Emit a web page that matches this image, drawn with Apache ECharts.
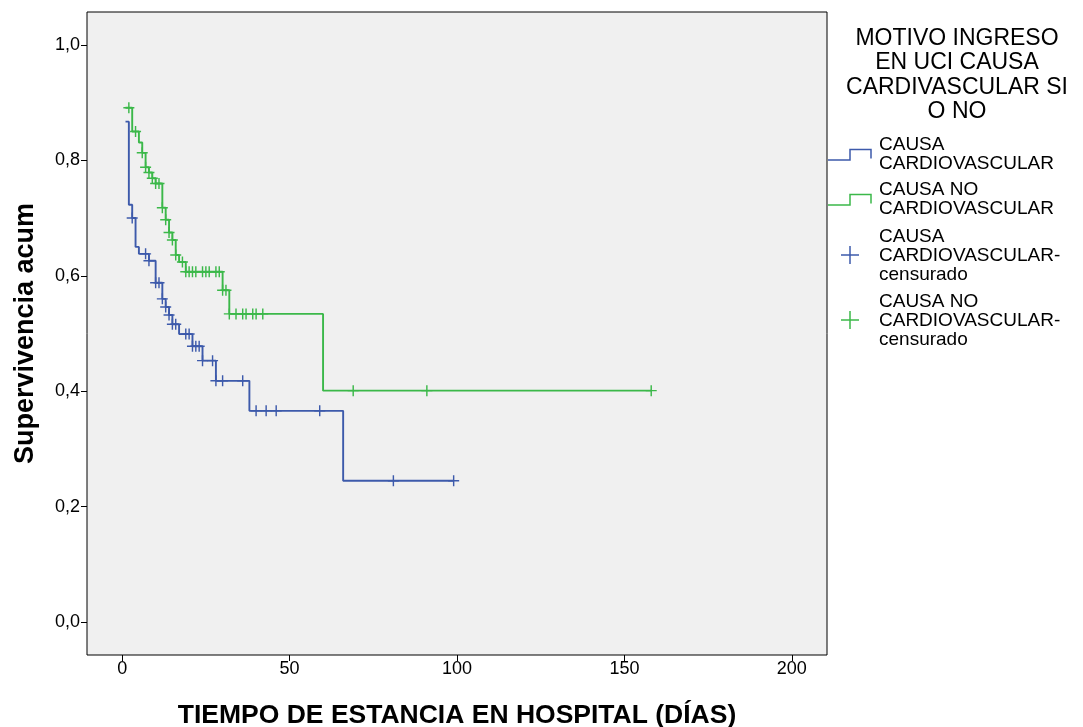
<!DOCTYPE html>
<html>
<head>
<meta charset="utf-8">
<script src="https://cdn.jsdelivr.net/npm/echarts@6/dist/echarts.min.js"></script>
<style>
  html, body { margin: 0; padding: 0; background: #ffffff; }
  #chart { width: 1083px; height: 727px; }
</style>
</head>
<body>
<div id="chart"></div>
<script>
// Kaplan-Meier estimates: day of each step and survival after it
const cardioDays = [1, 2, 3, 4, 5, 8, 10, 12, 13, 14, 15, 17, 21, 24, 28, 38, 66, 99];
const cardioSurv = [0.867, 0.723, 0.700, 0.650, 0.638, 0.626, 0.588, 0.560, 0.546, 0.532, 0.516, 0.499, 0.478, 0.453, 0.418, 0.366, 0.245, 0.245];
const cardioCensored = [3, 7, 8, 10, 11, 12, 13, 14, 15, 16, 19, 20, 21, 22, 23, 24, 27, 28, 30, 36, 40, 43, 46, 59, 81, 99];

const noCardioDays = [1, 3, 5, 6, 7, 8, 9, 10, 12, 13, 14, 15, 16, 17, 19, 30, 32, 60, 158];
const noCardioSurv = [0.891, 0.850, 0.831, 0.813, 0.788, 0.779, 0.769, 0.760, 0.718, 0.697, 0.675, 0.662, 0.636, 0.624, 0.607, 0.575, 0.534, 0.401, 0.401];
const noCardioCensored = [2, 4, 6, 7, 8, 9, 10, 11, 12, 13, 14, 15, 16, 18, 19, 20, 21, 22, 24, 25, 26, 28, 29, 30, 31, 32, 34, 36, 37, 39, 40, 42, 69, 91, 158];

const xTicks = [0, 50, 100, 150, 200];
const yTicks = [0, 0.2, 0.4, 0.6, 0.8, 1.0];

const legendTitle = 'MOTIVO INGRESO\nEN UCI CAUSA\nCARDIVASCULAR SI\nO NO';
const groupNames = ['CAUSA\nCARDIOVASCULAR', 'CAUSA NO\nCARDIOVASCULAR'];
const censorNames = ['CAUSA\nCARDIOVASCULAR-\ncensurado', 'CAUSA NO\nCARDIOVASCULAR-\ncensurado'];

const BLUE = '#3d5aab';
const GREEN = '#3bb849';
const FONT = '"Liberation Sans", Arial, sans-serif';

function pairs(days, surv) {
  return days.map((d, i) => [d, surv[i]]);
}
// survival value of the step curve at time t (value after the last step at or before t)
function survivalAt(days, surv, t) {
  let s = surv[0];
  for (let i = 0; i < days.length; i++) {
    if (days[i] <= t) s = surv[i];
  }
  return s;
}
function censorPoints(days, surv, cens) {
  return cens.map(t => [t, survivalAt(days, surv, t)]);
}

// filled plus sign used for censored cases
const PLUS = 'path://M4.35,0H5.65V4.35H10V5.65H5.65V10H4.35V5.65H0V4.35H4.35Z';

const chart = echarts.init(document.getElementById('chart'), null, { renderer: 'canvas' });

const option = {
  backgroundColor: '#ffffff',
  animation: false,
  textStyle: { fontFamily: FONT },
  grid: {
    left: 87, top: 12, width: 740, height: 643,
    outerBoundsMode: 'none', containLabel: false,
    show: true, backgroundColor: '#f0f0f0', borderColor: '#000000', borderWidth: 1
  },
  xAxis: {
    type: 'value',
    min: -10.5, max: 210.5,
    name: 'TIEMPO DE ESTANCIA EN HOSPITAL (DÍAS)',
    nameLocation: 'middle', nameGap: 47,
    nameTextStyle: { fontFamily: FONT, fontSize: 26.5, fontWeight: 'bold', color: '#000' },
    axisLine: { show: false, onZero: false },
    splitLine: { show: false },
    axisTick: { show: true, length: 6, inside: false, customValues: xTicks, lineStyle: { color: '#000', width: 1 } },
    axisLabel: { customValues: xTicks, fontFamily: FONT, fontSize: 18, color: '#000', margin: 5 }
  },
  yAxis: {
    type: 'value',
    min: -0.057, max: 1.057,
    name: 'Supervivencia acum',
    nameLocation: 'middle', nameGap: 48, nameRotate: 90,
    nameTextStyle: { fontFamily: FONT, fontSize: 27, fontWeight: 'bold', color: '#000' },
    axisLine: { show: false, onZero: false },
    splitLine: { show: false },
    axisTick: { show: true, length: 6, inside: false, customValues: yTicks, lineStyle: { color: '#000', width: 1 } },
    axisLabel: {
      customValues: yTicks, fontFamily: FONT, fontSize: 18, color: '#000', margin: 7,
      formatter: v => v.toFixed(1).replace('.', ',')
    }
  },
  series: [
    {
      name: groupNames[0], type: 'line', step: 'end', showSymbol: false,
      data: pairs(cardioDays, cardioSurv),
      lineStyle: { color: BLUE, width: 1.9 }, itemStyle: { color: BLUE }, z: 3
    },
    {
      name: groupNames[1], type: 'line', step: 'end', showSymbol: false,
      data: pairs(noCardioDays, noCardioSurv),
      lineStyle: { color: GREEN, width: 1.9 }, itemStyle: { color: GREEN }, z: 3
    },
    {
      name: censorNames[0], type: 'scatter', symbol: PLUS, symbolSize: 11,
      data: censorPoints(cardioDays, cardioSurv, cardioCensored),
      itemStyle: { color: BLUE, opacity: 1 }, z: 4
    },
    {
      name: censorNames[1], type: 'scatter', symbol: PLUS, symbolSize: 11,
      data: censorPoints(noCardioDays, noCardioSurv, noCardioCensored),
      itemStyle: { color: GREEN, opacity: 1 }, z: 4
    }
  ],
  graphic: [
    // legend title, centred
    {
      type: 'text', x: 957, y: 26,
      style: { text: legendTitle, font: '23px ' + FONT, fill: '#000', align: 'center', lineHeight: 24.5 }
    },
    // step icons
    { type: 'polyline', shape: { points: [[828, 160], [850, 160], [850, 149.5], [871, 149.5], [871, 158.5]] },
      style: { stroke: BLUE, lineWidth: 1.5, fill: null } },
    { type: 'polyline', shape: { points: [[828, 205], [850, 205], [850, 194.5], [871, 194.5], [871, 203.5]] },
      style: { stroke: GREEN, lineWidth: 1.5, fill: null } },
    // plus icons
    { type: 'polyline', shape: { points: [[841, 255], [859, 255]] }, style: { stroke: BLUE, lineWidth: 1.5 } },
    { type: 'polyline', shape: { points: [[850, 246], [850, 264]] }, style: { stroke: BLUE, lineWidth: 1.5 } },
    { type: 'polyline', shape: { points: [[841, 320], [859, 320]] }, style: { stroke: GREEN, lineWidth: 1.5 } },
    { type: 'polyline', shape: { points: [[850, 311], [850, 329]] }, style: { stroke: GREEN, lineWidth: 1.5 } },
    { type: 'text', x: 879, y: 135.5, style: { text: groupNames[0], font: '19px ' + FONT, fill: '#000', lineHeight: 19 } },
    { type: 'text', x: 879, y: 180.5, style: { text: groupNames[1], font: '19px ' + FONT, fill: '#000', lineHeight: 19 } },
    { type: 'text', x: 879, y: 227, style: { text: censorNames[0], font: '19px ' + FONT, fill: '#000', lineHeight: 19 } },
    { type: 'text', x: 879, y: 292, style: { text: censorNames[1], font: '19px ' + FONT, fill: '#000', lineHeight: 19 } }
  ]
};

chart.setOption(option);
</script>
</body>
</html>
